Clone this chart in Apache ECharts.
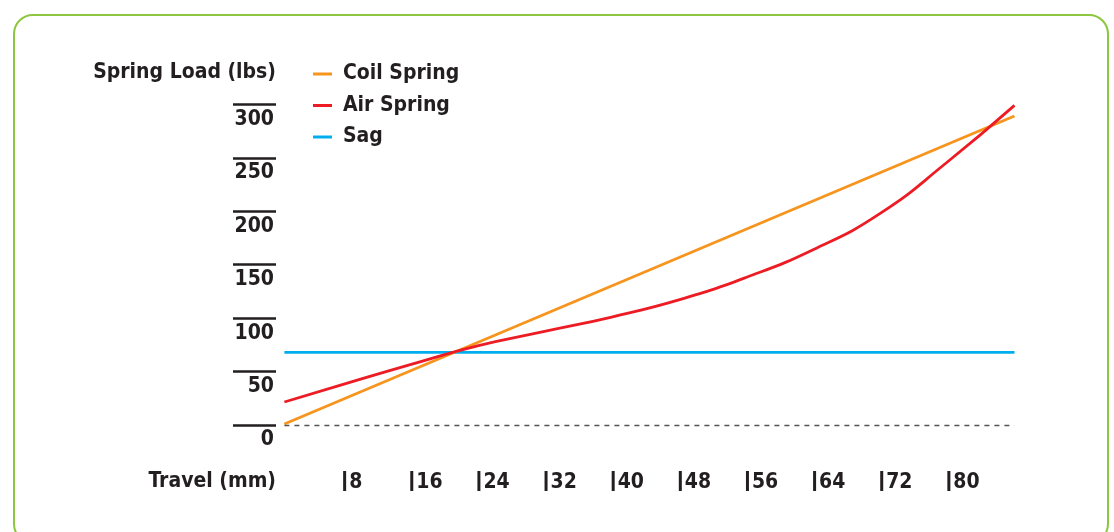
<!DOCTYPE html>
<html>
<head>
<meta charset="utf-8">
<script src="https://cdn.jsdelivr.net/npm/echarts@6/dist/echarts.min.js"></script>
<style>
  html, body { margin: 0; padding: 0; background: #ffffff; }
  #wrap { position: relative; width: 1114px; height: 532px; overflow: hidden; }
  #frame {
    position: absolute; left: 13px; top: 14px; width: 1096px; height: 530px;
    border: 2px solid #8dc63f; border-radius: 20px; box-sizing: border-box;
  }
  #chart { position: absolute; left: 0; top: 0; width: 1114px; height: 532px; }
</style>
</head>
<body>
<div id="wrap">
  <div id="frame"></div>
  <div id="chart"></div>
</div>
<script>
// Spring load against suspension travel
const travel = [1, 8, 16, 24, 32, 40, 48, 56, 64, 72, 80, 88];
const airSpring = [21.5, 38, 56.5, 74, 87.5, 101, 117, 138, 164, 198, 246, 299];
const coilTravel = [1, 88];
const coilSpring = [1, 289];
const sagTravel = [1, 88];
const sagLoad = [68, 68];
const xTickLabels = [8, 16, 24, 32, 40, 48, 56, 64, 72, 80];
const yTickLabels = [0, 50, 100, 150, 200, 250, 300];

const INK = '#231f20';
const FONT = "'Liberation Sans Narrow', 'DejaVu Sans Condensed', 'Liberation Sans', sans-serif";
const FS = 21;

const pairs = (xs, ys) => xs.map((x, i) => [x, ys[i]]);

const chart = echarts.init(document.getElementById('chart'), null, { renderer: 'canvas' });

chart.setOption({
  animation: false,
  textStyle: { fontFamily: FONT, color: INK },
  grid: { left: 276, right: 99.5, top: 104.3, bottom: 107, outerBoundsMode: 'none' },
  legend: {
    orient: 'vertical',
    left: 313,
    top: 62,
    padding: 0,
    itemWidth: 19,
    itemHeight: 3,
    itemGap: 7.5,
    icon: 'rect',
    textStyle: { fontFamily: FONT, fontWeight: 'bold', fontSize: FS, lineHeight: 24, color: INK, padding: [0, 0, 0, 6] },
    data: ['Coil Spring', 'Air Spring', 'Sag']
  },
  graphic: [
    {
      type: 'text', x: 276, y: 73,
      style: { text: 'Spring Load (lbs)', fontFamily: FONT, fontWeight: 'bold', fontSize: FS, fill: INK, align: 'right', verticalAlign: 'middle' }
    },
    {
      type: 'text', x: 276, y: 482,
      style: { text: 'Travel (mm)', fontFamily: FONT, fontWeight: 'bold', fontSize: FS, fill: INK, align: 'right', verticalAlign: 'middle' }
    }
  ],
  xAxis: {
    type: 'value',
    min: 0,
    max: 88,
    interval: 8,
    axisLine: { show: false },
    axisTick: { show: false },
    splitLine: { show: false },
    axisLabel: {
      margin: 46,
      align: 'left',
      verticalAlign: 'top',
      formatter: v => xTickLabels.includes(v) ? '{p|}{v|' + v + '}' : '',
      rich: {
        p: { width: 3, height: 20, backgroundColor: INK, verticalAlign: 'top' },
        v: { fontFamily: FONT, fontWeight: 'bold', fontSize: FS, lineHeight: 24, color: INK, padding: [0, 0, 0, 3] }
      }
    }
  },
  yAxis: {
    type: 'value',
    min: 0,
    max: 300,
    interval: 50,
    axisLine: { show: false },
    splitLine: { show: false },
    axisTick: { show: true, inside: false, length: 43, lineStyle: { color: INK, width: 2.5 } },
    axisLabel: {
      margin: 2,
      align: 'right',
      verticalAlign: 'top',
      padding: [3, 0, 0, 0],
      fontFamily: FONT,
      fontWeight: 'bold',
      fontSize: FS,
      lineHeight: 24,
      color: INK,
      formatter: v => yTickLabels.includes(v) ? String(v) : ''
    }
  },
  series: [
    {
      name: 'Sag',
      type: 'line',
      data: pairs(sagTravel, sagLoad),
      showSymbol: false,
      lineStyle: { color: '#00aeef', width: 2.8 },
      itemStyle: { color: '#00aeef' },
      markLine: {
        silent: true,
        symbol: 'none',
        label: { show: false },
        lineStyle: { color: '#555555', type: [5, 5], width: 1.3 },
        data: [[{ coord: [1, 0] }, { coord: [88, 0] }]]
      },
      z: 2
    },
    {
      name: 'Coil Spring',
      type: 'line',
      data: pairs(coilTravel, coilSpring),
      showSymbol: false,
      lineStyle: { color: '#f7941d', width: 2.8 },
      itemStyle: { color: '#f7941d' },
      z: 3
    },
    {
      name: 'Air Spring',
      type: 'line',
      data: pairs(travel, airSpring),
      smooth: 0.5,
      showSymbol: false,
      clip: false,
      lineStyle: { color: '#ed1c24', width: 2.8 },
      itemStyle: { color: '#ed1c24' },
      z: 4
    }
  ]
});
</script>
</body>
</html>
